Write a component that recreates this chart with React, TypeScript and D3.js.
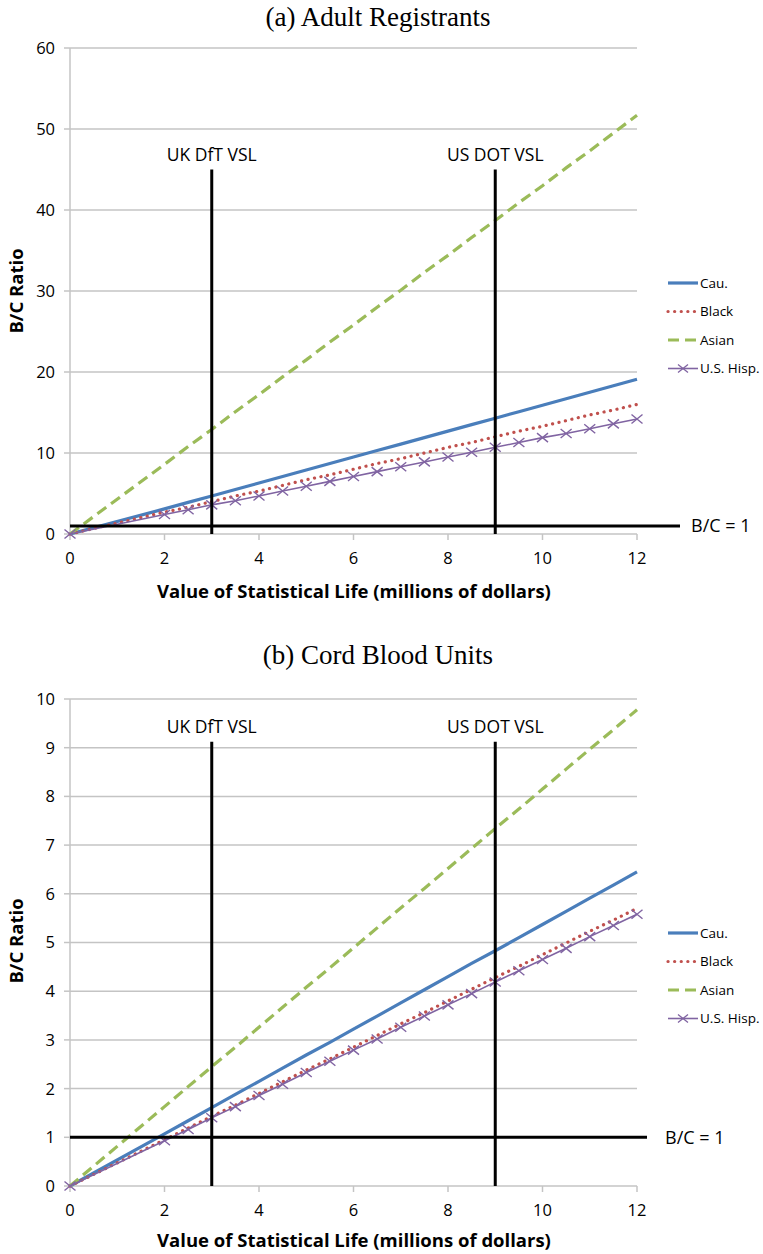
import * as d3 from "d3";
import React from "react";

// x positions of the data points (millions of dollars)
const vsl = [0, 2, 2.5, 3, 3.5, 4, 4.5, 5, 5.5, 6, 6.5, 7, 7.5, 8, 8.5, 9, 9.5, 10, 10.5, 11, 11.5, 12];
const seriesNames = ["Cau.", "Black", "Asian", "U.S. Hisp."];

// (a) Adult Registrants
const adultCau = [0, 3.1, 3.9, 4.7, 5.5, 6.3, 7.1, 7.9, 8.7, 9.5, 10.3, 11.1, 11.9, 12.7, 13.5, 14.3, 15.1, 15.9, 16.7, 17.5, 18.3, 19.1];
const adultBlack = [0, 2.7, 3.3, 4.0, 4.7, 5.3, 6.0, 6.7, 7.3, 8.0, 8.7, 9.3, 10.0, 10.7, 11.3, 12.0, 12.7, 13.3, 14.0, 14.7, 15.3, 16.0];
const adultAsian = [0, 8.6, 10.8, 12.9, 15.1, 17.2, 19.4, 21.5, 23.7, 25.8, 28.0, 30.1, 32.3, 34.4, 36.6, 38.7, 40.9, 43.0, 45.2, 47.3, 49.5, 51.7];
const adultHisp = [0, 2.4, 3.0, 3.6, 4.1, 4.7, 5.3, 5.9, 6.5, 7.1, 7.7, 8.3, 8.9, 9.5, 10.1, 10.7, 11.3, 11.9, 12.4, 13.0, 13.6, 14.2];
const adultYTicks = [0, 10, 20, 30, 40, 50, 60];

// (b) Cord Blood Units
const cordCau = [0, 1.07, 1.34, 1.61, 1.88, 2.15, 2.42, 2.69, 2.95, 3.22, 3.49, 3.76, 4.03, 4.30, 4.57, 4.83, 5.10, 5.37, 5.64, 5.91, 6.18, 6.45];
const cordBlack = [0, 0.95, 1.19, 1.43, 1.66, 1.90, 2.14, 2.38, 2.61, 2.85, 3.09, 3.33, 3.56, 3.80, 4.04, 4.28, 4.51, 4.75, 4.99, 5.23, 5.46, 5.70];
const cordAsian = [0, 1.63, 2.04, 2.45, 2.85, 3.26, 3.67, 4.08, 4.48, 4.89, 5.30, 5.71, 6.11, 6.52, 6.93, 7.34, 7.74, 8.15, 8.56, 8.97, 9.37, 9.78];
const cordHisp = [0, 0.93, 1.16, 1.40, 1.63, 1.86, 2.09, 2.33, 2.56, 2.79, 3.02, 3.26, 3.49, 3.72, 3.95, 4.19, 4.42, 4.65, 4.88, 5.12, 5.35, 5.58];
const cordYTicks = [0, 1, 2, 3, 4, 5, 6, 7, 8, 9, 10];

const xTicks = [0, 2, 4, 6, 8, 10, 12];
const vslMarks = [
  { x: 3, label: "UK DfT VSL" },
  { x: 9, label: "US DOT VSL" },
];

const colors = ["#4a7ebb", "#c0504d", "#9bbb59", "#8064a2"];
const sans = "'Open Sans', sans-serif";

function Panel({ title, titleY, yTop, yBottom, yMax, yTicks, series, vTop, bcEnd, bcLabelX, labelY, legendY, yLabelY }) {
  const x = d3.scaleLinear().domain([0, 12]).range([70, 637]);
  const y = d3.scaleLinear().domain([0, yMax]).range([yBottom, yTop]);
  const line = d3.line<number>().x((d, i) => x(vsl[i])).y((d) => y(d));
  const styles = [
    { w: 3.2, dash: null, cap: "butt" },
    { w: 3.2, dash: "0.1 6.5", cap: "round" },
    { w: 3.2, dash: "11 6", cap: "butt" },
    { w: 1.6, dash: null, cap: "butt" },
  ];
  return (
    <g>
      <text x={378} y={titleY} textAnchor="middle" fontFamily="'Liberation Serif', serif" fontSize={27}>{title}</text>
      {/* grid */}
      {yTicks.map((t) => (
        <g key={t}>
          {t > 0 && <line x1={70} x2={637} y1={y(t)} y2={y(t)} stroke="#c4c4c4" strokeWidth={1.5} />}
          <line x1={64} x2={70} y1={y(t)} y2={y(t)} stroke="#c4c4c4" strokeWidth={1.5} />
          <text x={55} y={y(t)} dy="0.36em" textAnchor="end" fontFamily={sans} fontSize={16.5}>{t}</text>
        </g>
      ))}
      <line x1={70} x2={70} y1={y(yMax)} y2={y(0)} stroke="#c4c4c4" strokeWidth={1.5} />
      <line x1={70} x2={637} y1={y(0)} y2={y(0)} stroke="#c4c4c4" strokeWidth={1.5} />
      {xTicks.map((t) => (
        <g key={t}>
          <line x1={x(t)} x2={x(t)} y1={y(0)} y2={y(0) + 6} stroke="#c4c4c4" strokeWidth={1.5} />
          <text x={x(t)} y={y(0) + 30} textAnchor="middle" fontFamily={sans} fontSize={16.5}>{t}</text>
        </g>
      ))}
      {/* series */}
      {series.map((s, i) => (
        <path key={i} d={line(s)} fill="none" stroke={colors[i]} strokeWidth={styles[i].w}
          strokeDasharray={styles[i].dash} strokeLinecap={styles[i].cap} />
      ))}
      {series[3].map((v, i) => (
        <path key={i} d={`M${x(vsl[i]) - 5.5},${y(v) - 4.5}L${x(vsl[i]) + 5.5},${y(v) + 4.5}M${x(vsl[i]) - 5.5},${y(v) + 4.5}L${x(vsl[i]) + 5.5},${y(v) - 4.5}`}
          stroke={colors[3]} strokeWidth={1.4} fill="none" />
      ))}
      {/* reference lines */}
      {vslMarks.map((m) => (
        <g key={m.label}>
          <line x1={x(m.x)} x2={x(m.x)} y1={y(vTop)} y2={y(0)} stroke="#000" strokeWidth={3} />
          <text x={x(m.x)} y={y(vTop) - 9} textAnchor="middle" fontFamily={sans} fontSize={17.5}>{m.label}</text>
        </g>
      ))}
      <line x1={70} x2={bcEnd} y1={y(1)} y2={y(1)} stroke="#000" strokeWidth={3} />
      <text x={bcLabelX} y={y(1)} dy="0.36em" fontFamily={sans} fontSize={18}>B/C = 1</text>
      {/* axis titles */}
      <text x={354} y={labelY} textAnchor="middle" fontFamily={sans} fontWeight="bold" fontSize={18.5}>Value of Statistical Life (millions of dollars)</text>
      <text transform={`translate(23,${yLabelY}) rotate(-90)`} textAnchor="middle" fontFamily={sans} fontWeight="bold" fontSize={18.5}>B/C Ratio</text>
      {/* legend */}
      {seriesNames.map((n, i) => {
        const ly = legendY + i * 28.5;
        return (
          <g key={n}>
            <line x1={668} x2={698} y1={ly} y2={ly} stroke={colors[i]} strokeWidth={styles[i].w}
              strokeDasharray={styles[i].dash} strokeLinecap={styles[i].cap} />
            {i === 3 && <path d={`M678,${ly - 4}L688,${ly + 4}M678,${ly + 4}L688,${ly - 4}`} stroke={colors[3]} strokeWidth={1.3} />}
            <text x={700} y={ly} dy="0.36em" fontFamily={sans} fontSize={13.5}>{n}</text>
          </g>
        );
      })}
    </g>
  );
}

export default function App() {
  return (
    <svg width={763} height={1254} style={{ position: "absolute", left: 0, top: 0, background: "#fff" }}>
      <rect width={763} height={1254} fill="#fff" />
      <Panel title="(a) Adult Registrants" titleY={26} yTop={48} yBottom={534} yMax={60} yTicks={adultYTicks}
        series={[adultCau, adultBlack, adultAsian, adultHisp]} vTop={45} bcEnd={680} bcLabelX={691}
        labelY={598} legendY={283} yLabelY={291} />
      <Panel title="(b) Cord Blood Units" titleY={664} yTop={699} yBottom={1186} yMax={10} yTicks={cordYTicks}
        series={[cordCau, cordBlack, cordAsian, cordHisp]} vTop={9.12} bcEnd={647} bcLabelX={665}
        labelY={1247} legendY={933} yLabelY={941} />
    </svg>
  );
}
